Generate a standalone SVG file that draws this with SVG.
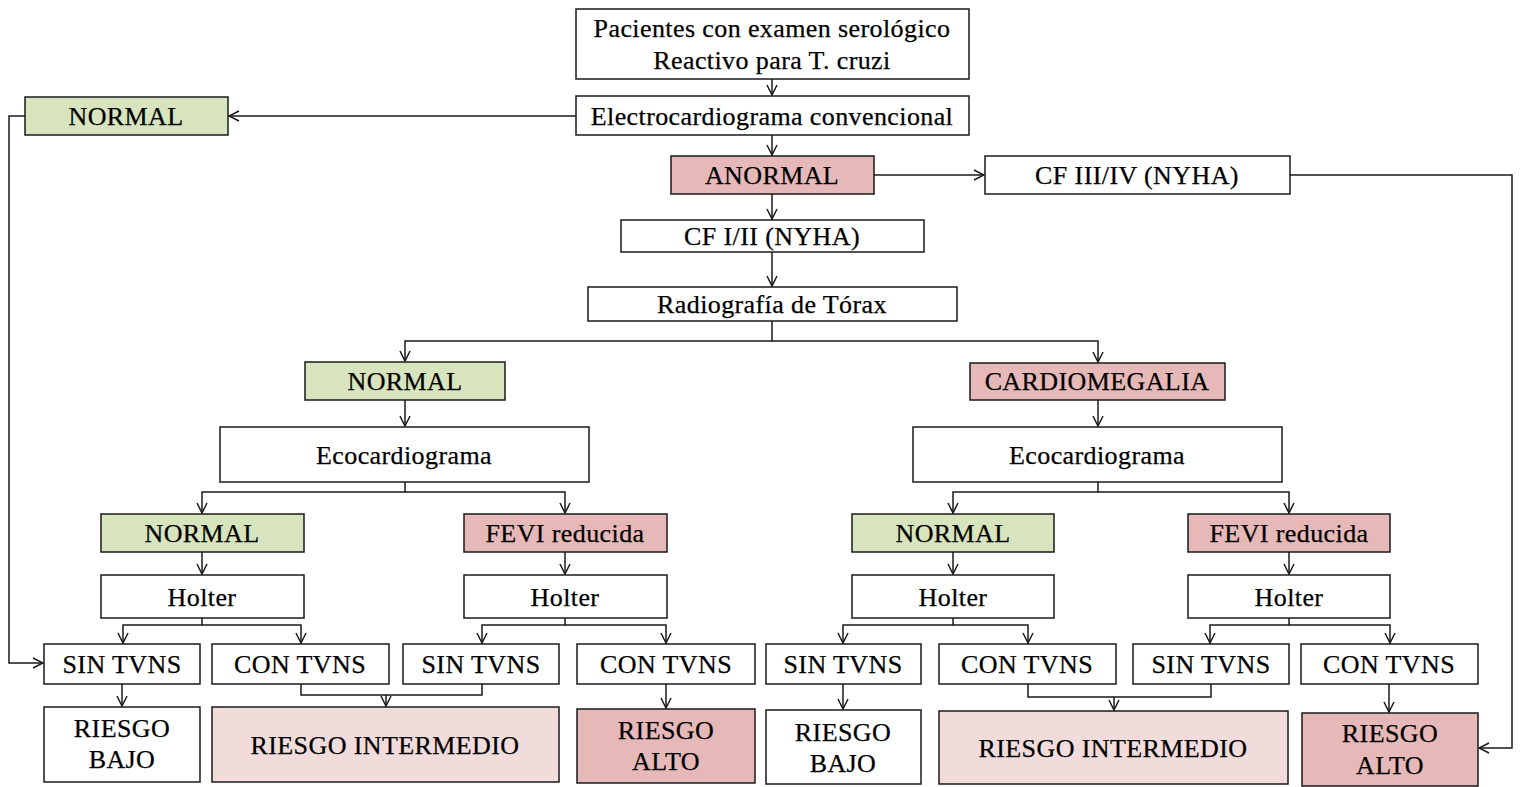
<svg xmlns="http://www.w3.org/2000/svg" width="1522" height="787" viewBox="0 0 1522 787">
<defs>
<style>
.b{fill:#fff;stroke:#1a1a1a;stroke-width:1.5}
.g{fill:#d7e4bd;stroke:#1a1a1a;stroke-width:1.5}
.p{fill:#e6b9b8;stroke:#1a1a1a;stroke-width:1.5}
.lp{fill:#f2dcdb;stroke:#1a1a1a;stroke-width:1.5}
text{font-family:"Liberation Serif","Times New Roman",serif;font-size:26px;letter-spacing:0.4px;fill:#000;stroke:#000;stroke-width:0.25;text-anchor:middle}
.c path{fill:none;stroke:#1a1a1a;stroke-width:1.5}
</style>
<marker id="a" viewBox="0 0 12 12" refX="11" refY="6" markerWidth="12" markerHeight="12" markerUnits="userSpaceOnUse" orient="auto">
<polyline points="1,1 11,6 1,11" fill="none" stroke="#1a1a1a" stroke-width="1.5"/>
</marker>
</defs>
<rect width="1522" height="787" fill="#fff"/>

<g class="c">
<path d="M772,79V95" marker-end="url(#a)"/>
<path d="M576,116H229" marker-end="url(#a)"/>
<path d="M772,135V155" marker-end="url(#a)"/>
<path d="M874,175H984" marker-end="url(#a)"/>
<path d="M1290,175H1512V748H1479" marker-end="url(#a)"/>
<path d="M25,116H9V663H43" marker-end="url(#a)"/>
<path d="M772,194V219" marker-end="url(#a)"/>
<path d="M772,252V286" marker-end="url(#a)"/>
<path d="M772,321V341H405V361" marker-end="url(#a)"/>
<path d="M772,341H1098V362" marker-end="url(#a)"/>
<path d="M405,400V426" marker-end="url(#a)"/>
<path d="M1098,400V426" marker-end="url(#a)"/>
<path d="M405,482V492H202V513" marker-end="url(#a)"/>
<path d="M405,492H565V513" marker-end="url(#a)"/>
<path d="M1098,482V492H953V513" marker-end="url(#a)"/>
<path d="M1098,492H1289V513" marker-end="url(#a)"/>
<path d="M202,552V574" marker-end="url(#a)"/>
<path d="M565,552V574" marker-end="url(#a)"/>
<path d="M953,552V574" marker-end="url(#a)"/>
<path d="M1289,552V574" marker-end="url(#a)"/>
<path d="M202,618V625H123V643" marker-end="url(#a)"/>
<path d="M202,625H301V643" marker-end="url(#a)"/>
<path d="M565,618V625H482V643" marker-end="url(#a)"/>
<path d="M565,625H666V643" marker-end="url(#a)"/>
<path d="M953,618V625H843V643" marker-end="url(#a)"/>
<path d="M953,625H1028V643" marker-end="url(#a)"/>
<path d="M1289,618V625H1210V643" marker-end="url(#a)"/>
<path d="M1289,625H1390V643" marker-end="url(#a)"/>
<path d="M122,684V706" marker-end="url(#a)"/>
<path d="M301,684V695H482V684"/>
<path d="M386,695V706" marker-end="url(#a)"/>
<path d="M666,684V708" marker-end="url(#a)"/>
<path d="M843,684V709" marker-end="url(#a)"/>
<path d="M1028,684V697H1211V684"/>
<path d="M1114,697V710" marker-end="url(#a)"/>
<path d="M1389,684V712" marker-end="url(#a)"/>
</g>

<g id="n-pacientes"><rect class="b" x="576" y="9" width="393" height="70"/><text x="772" y="37">Pacientes con examen serológico</text><text x="772" y="69">Reactivo para T. cruzi</text></g>
<g id="n-ecg"><rect class="b" x="576" y="96" width="393" height="39"/><text x="772" y="125">Electrocardiograma convencional</text></g>
<g id="n-normal0"><rect class="g" x="25" y="97" width="203" height="38"/><text x="126" y="125">NORMAL</text></g>
<g id="n-anormal"><rect class="p" x="671" y="156" width="203" height="38"/><text x="772" y="184">ANORMAL</text></g>
<g id="n-cf34"><rect class="b" x="985" y="156" width="305" height="38"/><text x="1137" y="184">CF III/IV (NYHA)</text></g>
<g id="n-cf12"><rect class="b" x="621" y="220" width="303" height="32"/><text x="772" y="245">CF I/II (NYHA)</text></g>
<g id="n-rx"><rect class="b" x="588" y="287" width="369" height="34"/><text x="772" y="313">Radiografía de Tórax</text></g>
<g id="n-normal1"><rect class="g" x="305" y="362" width="200" height="38"/><text x="405" y="390">NORMAL</text></g>
<g id="n-cardio"><rect class="p" x="970" y="363" width="255" height="37"/><text x="1097" y="390">CARDIOMEGALIA</text></g>
<g id="n-eco1"><rect class="b" x="220" y="427" width="369" height="55"/><text x="404" y="464">Ecocardiograma</text></g>
<g id="n-eco2"><rect class="b" x="913" y="427" width="369" height="55"/><text x="1097" y="464">Ecocardiograma</text></g>
<g id="n-normal2"><rect class="g" x="101" y="514" width="203" height="38"/><text x="202" y="542">NORMAL</text></g>
<g id="n-fevi1"><rect class="p" x="464" y="514" width="203" height="38"/><text x="565" y="542">FEVI reducida</text></g>
<g id="n-normal3"><rect class="g" x="852" y="514" width="202" height="38"/><text x="953" y="542">NORMAL</text></g>
<g id="n-fevi2"><rect class="p" x="1188" y="514" width="202" height="38"/><text x="1289" y="542">FEVI reducida</text></g>
<g id="n-holter1"><rect class="b" x="101" y="575" width="203" height="43"/><text x="202" y="606">Holter</text></g>
<g id="n-holter2"><rect class="b" x="464" y="575" width="203" height="43"/><text x="565" y="606">Holter</text></g>
<g id="n-holter3"><rect class="b" x="852" y="575" width="202" height="43"/><text x="953" y="606">Holter</text></g>
<g id="n-holter4"><rect class="b" x="1188" y="575" width="202" height="43"/><text x="1289" y="606">Holter</text></g>
<g id="n-sin1"><rect class="b" x="44" y="644" width="156" height="40"/><text x="122" y="673">SIN TVNS</text></g>
<g id="n-con1"><rect class="b" x="212" y="644" width="177" height="40"/><text x="300" y="673">CON TVNS</text></g>
<g id="n-sin2"><rect class="b" x="403" y="644" width="156" height="40"/><text x="481" y="673">SIN TVNS</text></g>
<g id="n-con2"><rect class="b" x="577" y="644" width="178" height="40"/><text x="666" y="673">CON TVNS</text></g>
<g id="n-sin3"><rect class="b" x="766" y="644" width="155" height="40"/><text x="843" y="673">SIN TVNS</text></g>
<g id="n-con3"><rect class="b" x="939" y="644" width="177" height="40"/><text x="1027" y="673">CON TVNS</text></g>
<g id="n-sin4"><rect class="b" x="1133" y="644" width="156" height="40"/><text x="1211" y="673">SIN TVNS</text></g>
<g id="n-con4"><rect class="b" x="1301" y="644" width="177" height="40"/><text x="1389" y="673">CON TVNS</text></g>
<g id="n-bajo1"><rect class="b" x="44" y="707" width="156" height="75"/><text x="122" y="737">RIESGO</text><text x="122" y="768">BAJO</text></g>
<g id="n-inter1"><rect class="lp" x="212" y="707" width="347" height="75"/><text x="385" y="754">RIESGO INTERMEDIO</text></g>
<g id="n-alto1"><rect class="p" x="577" y="709" width="178" height="74"/><text x="666" y="739">RIESGO</text><text x="666" y="770">ALTO</text></g>
<g id="n-bajo2"><rect class="b" x="766" y="710" width="155" height="74"/><text x="843" y="741">RIESGO</text><text x="843" y="772">BAJO</text></g>
<g id="n-inter2"><rect class="lp" x="939" y="711" width="349" height="73"/><text x="1113" y="757">RIESGO INTERMEDIO</text></g>
<g id="n-alto2"><rect class="p" x="1302" y="713" width="176" height="73"/><text x="1390" y="742">RIESGO</text><text x="1390" y="774">ALTO</text></g>
</svg>
